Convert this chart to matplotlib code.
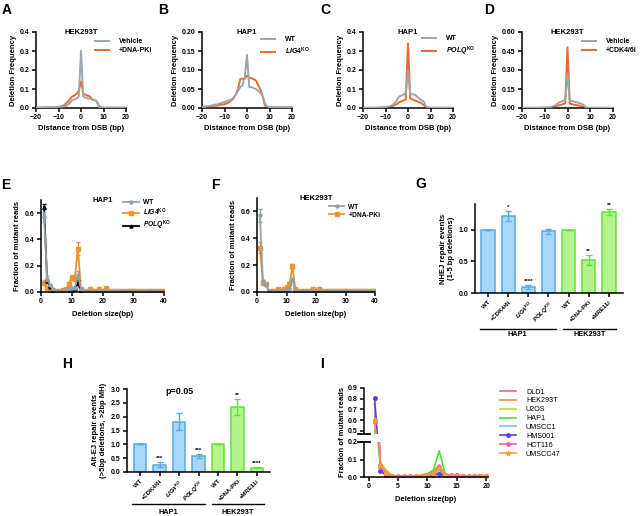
import matplotlib
matplotlib.use("Agg")
import matplotlib.pyplot as plt
import matplotlib.transforms as mtransforms
import numpy as np

plt.rcParams['font.family'] = ['Liberation Sans', 'DejaVu Sans']
plt.rcParams['font.weight'] = 'bold'
plt.rcParams['axes.labelweight'] = 'bold'
plt.rcParams['mathtext.fontset'] = 'custom'
plt.rcParams['mathtext.rm'] = 'Liberation Sans:bold'
plt.rcParams['mathtext.it'] = 'Liberation Sans:italic:bold'

W, H = 643, 516

# ---------------- data ----------------
# panels A-D: deletion frequency vs distance from DSB (-20..20)
dist = list(range(-20, 21))

a_vehicle = [0.002, 0.002, 0.002, 0.003, 0.003, 0.003, 0.004, 0.004, 0.005, 0.005, 0.006,
             0.007, 0.008, 0.01, 0.015, 0.025, 0.04, 0.045, 0.05, 0.06,
             0.30,
             0.06, 0.055, 0.05, 0.05, 0.045, 0.04, 0.035, 0.005, 0.002,
             0.001, 0.001, 0.001, 0.001, 0.001, 0.001, 0.001, 0.001, 0.001, 0.001, 0.001]
a_dnapki = [0.002, 0.002, 0.002, 0.002, 0.003, 0.003, 0.003, 0.004, 0.004, 0.005, 0.006,
            0.008, 0.012, 0.02, 0.03, 0.045, 0.06, 0.065, 0.075, 0.09,
            0.14,
            0.075, 0.07, 0.065, 0.06, 0.045, 0.04, 0.035, 0.01, 0.003,
            0.002, 0.002, 0.002, 0.002, 0.002, 0.002, 0.002, 0.002, 0.002, 0.002, 0.002]

b_wt = [0.002, 0.003, 0.004, 0.005, 0.006, 0.008, 0.009, 0.01, 0.012, 0.014, 0.016,
        0.018, 0.02, 0.022, 0.028, 0.035, 0.045, 0.055, 0.06, 0.08,
        0.14,
        0.055, 0.055, 0.052, 0.05, 0.045, 0.04, 0.03, 0.012, 0.004,
        0.002, 0.002, 0.002, 0.002, 0.002, 0.002, 0.002, 0.002, 0.002, 0.002, 0.002]
b_lig4 = [0.003, 0.003, 0.004, 0.004, 0.005, 0.006, 0.006, 0.007, 0.008, 0.009, 0.01,
          0.012, 0.015, 0.02, 0.025, 0.035, 0.05, 0.076, 0.077, 0.077,
          0.085,
          0.08, 0.078, 0.076, 0.072, 0.06, 0.048, 0.03, 0.006, 0.003,
          0.002, 0.002, 0.002, 0.002, 0.002, 0.002, 0.002, 0.002, 0.002, 0.002, 0.002]

c_wt = [0.001, 0.001, 0.001, 0.001, 0.001, 0.001, 0.002, 0.002, 0.003, 0.004, 0.005,
        0.007, 0.01, 0.015, 0.025, 0.04, 0.06, 0.065, 0.07, 0.08,
        0.19,
        0.075, 0.072, 0.07, 0.06, 0.05, 0.04, 0.035, 0.008, 0.002,
        0.001, 0.001, 0.001, 0.001, 0.001, 0.001, 0.001, 0.001, 0.001, 0.001, 0.001]
c_polq = [0.001, 0.001, 0.001, 0.001, 0.001, 0.001, 0.001, 0.002, 0.002, 0.003, 0.003,
          0.004, 0.006, 0.01, 0.015, 0.02, 0.03, 0.035, 0.04, 0.045,
          0.34,
          0.05, 0.045, 0.04, 0.035, 0.03, 0.025, 0.015, 0.004, 0.002,
          0.001, 0.001, 0.001, 0.001, 0.001, 0.001, 0.001, 0.001, 0.001, 0.001, 0.001]

d_vehicle = [0.001, 0.001, 0.001, 0.001, 0.001, 0.001, 0.002, 0.002, 0.002, 0.003, 0.003,
             0.004, 0.006, 0.01, 0.015, 0.025, 0.04, 0.05, 0.055, 0.07,
             0.26,
             0.06, 0.055, 0.05, 0.045, 0.04, 0.035, 0.025, 0.006, 0.002,
             0.001, 0.001, 0.001, 0.001, 0.001, 0.001, 0.001, 0.001, 0.001, 0.001, 0.001]
d_cdk = [0.001, 0.001, 0.001, 0.001, 0.001, 0.001, 0.001, 0.001, 0.002, 0.002, 0.002,
         0.003, 0.004, 0.006, 0.01, 0.015, 0.02, 0.025, 0.03, 0.04,
         0.48,
         0.035, 0.03, 0.025, 0.022, 0.02, 0.015, 0.01, 0.004, 0.002,
         0.001, 0.001, 0.001, 0.001, 0.001, 0.001, 0.001, 0.001, 0.001, 0.001, 0.001]

# panels E-F: fraction of mutant reads vs deletion size (1..40)
del_size = list(range(1, 41))
e_wt = [0.57, 0.10, 0.05, 0.02, 0.005, 0.004, 0.005, 0.01, 0.02, 0.03,
        0.03, 0.13, 0.02, 0.005, 0.004, 0.005, 0.003, 0.004, 0.006, 0.004,
        0.01, 0.004, 0.004, 0.003, 0.004, 0.003, 0.004, 0.003, 0.004, 0.005,
        0.003, 0.004, 0.003, 0.004, 0.003, 0.003, 0.004, 0.003, 0.003, 0.003]
e_lig4 = [0.07, 0.03, 0.005, 0.005, 0.004, 0.004, 0.015, 0.02, 0.06, 0.11,
          0.10, 0.33, 0.02, 0.005, 0.004, 0.02, 0.005, 0.004, 0.02, 0.005,
          0.03, 0.005, 0.004, 0.004, 0.005, 0.004, 0.004, 0.005, 0.004, 0.008,
          0.004, 0.004, 0.005, 0.004, 0.004, 0.004, 0.005, 0.004, 0.004, 0.004]
e_polq = [0.65, 0.08, 0.04, 0.01, 0.002, 0.002, 0.002, 0.002, 0.003, 0.005,
          0.02, 0.07, 0.005, 0.002, 0.002, 0.002, 0.002, 0.002, 0.002, 0.002,
          0.002, 0.002, 0.002, 0.002, 0.002, 0.002, 0.002, 0.002, 0.002, 0.002,
          0.002, 0.002, 0.002, 0.002, 0.002, 0.002, 0.002, 0.002, 0.002, 0.002]
e_wt_err = {1: 0.04, 2: 0.02, 12: 0.03}
e_lig4_err = {1: 0.02, 10: 0.02, 12: 0.05}
e_polq_err = {1: 0.02, 12: 0.02}

f_wt = [0.57, 0.08, 0.05, 0.01, 0.004, 0.004, 0.004, 0.004, 0.004, 0.01,
        0.02, 0.10, 0.01, 0.004, 0.004, 0.004, 0.004, 0.004, 0.005, 0.004,
        0.005, 0.004, 0.004, 0.004, 0.004, 0.004, 0.004, 0.004, 0.004, 0.004,
        0.004, 0.004, 0.004, 0.004, 0.004, 0.004, 0.004, 0.004, 0.004, 0.004]
f_dnapki = [0.33, 0.07, 0.06, 0.01, 0.005, 0.005, 0.02, 0.005, 0.02, 0.04,
            0.06, 0.19, 0.02, 0.005, 0.005, 0.005, 0.005, 0.005, 0.02, 0.005,
            0.02, 0.005, 0.004, 0.004, 0.004, 0.004, 0.004, 0.004, 0.004, 0.004,
            0.004, 0.004, 0.004, 0.004, 0.004, 0.004, 0.004, 0.004, 0.004, 0.004]
f_wt_err = {1: 0.05, 2: 0.01}
f_dnapki_err = {1: 0.04, 12: 0.02}

# panels G-H: bar charts
bar_labels = ['WT', '+CDK4/6i', r'$\mathit{LIG4}^{\mathrm{KO}}$', r'$\mathit{POLQ}^{\mathrm{KO}}$',
              'WT', '+DNA-PKi', '+MRE11i']
bar_group = ['HAP1', 'HAP1', 'HAP1', 'HAP1', 'HEK293T', 'HEK293T', 'HEK293T']
g_vals = [1.0, 1.22, 0.10, 0.98, 1.0, 0.52, 1.28]
g_err = [0.0, 0.08, 0.03, 0.04, 0.0, 0.08, 0.05]
g_stars = ['', '*', '****', '', '', '**', '**']
h_vals = [1.0, 0.27, 1.82, 0.57, 1.0, 2.35, 0.15]
h_err = [0.0, 0.08, 0.30, 0.07, 0.0, 0.30, 0.02]
h_stars = ['', '***', '', '***', '', '**', '****']

# panel I: cell lines
i_size = list(range(1, 21))
i_lines = ['DLD1', 'HEK293T', 'U2OS', 'HAP1', 'UMSCC1', 'HMS001', 'HCT116', 'UMSCC47']
i_colors = ['#F0649E', '#F28C38', '#C2D62E', '#4CE032', '#8AB8EC', '#6B35E6', '#F0649A', '#F39A3C']
i_markers = [None, None, None, None, None, 'o', 'o', '*']
i_dld1 = [0.75, 0.06, 0.02, 0.005, 0.005, 0.004, 0.005, 0.005, 0.008, 0.015,
          0.02, 0.06, 0.015, 0.01, 0.01, 0.008, 0.006, 0.005, 0.008, 0.005]
i_hek = [0.67, 0.07, 0.03, 0.005, 0.004, 0.004, 0.006, 0.006, 0.01, 0.02,
         0.03, 0.07, 0.015, 0.008, 0.006, 0.005, 0.005, 0.006, 0.01, 0.006]
i_u2os = [0.50, 0.08, 0.04, 0.008, 0.004, 0.004, 0.005, 0.005, 0.008, 0.012,
          0.015, 0.03, 0.01, 0.006, 0.005, 0.004, 0.004, 0.006, 0.012, 0.005]
i_hap1 = [0.40, 0.06, 0.02, 0.004, 0.003, 0.003, 0.004, 0.005, 0.01, 0.02,
          0.04, 0.15, 0.02, 0.006, 0.005, 0.004, 0.004, 0.005, 0.008, 0.004]
i_umscc1 = [0.76, 0.05, 0.015, 0.004, 0.004, 0.003, 0.004, 0.004, 0.006, 0.01,
            0.015, 0.04, 0.01, 0.005, 0.004, 0.004, 0.004, 0.004, 0.006, 0.004]
i_hms001 = [0.81, 0.035, 0.008, 0.003, 0.002, 0.002, 0.003, 0.003, 0.004, 0.005,
            0.008, 0.02, 0.005, 0.003, 0.003, 0.003, 0.003, 0.003, 0.004, 0.003]
i_hct116 = [0.58, 0.06, 0.02, 0.005, 0.004, 0.004, 0.005, 0.005, 0.007, 0.012,
            0.02, 0.055, 0.012, 0.012, 0.01, 0.008, 0.006, 0.005, 0.008, 0.005]
i_umscc47 = [0.60, 0.07, 0.025, 0.005, 0.004, 0.004, 0.005, 0.005, 0.008, 0.012,
             0.02, 0.05, 0.012, 0.008, 0.006, 0.005, 0.005, 0.006, 0.008, 0.004]
i_data = [i_dld1, i_hek, i_u2os, i_hap1, i_umscc1, i_hms001, i_hct116, i_umscc47]

GRAY = '#9AA8AE'
RED_OR = '#EA6A2C'
EGRAY = '#8FA2AC'
EORANGE = '#F0922E'
BLUE_F, BLUE_E = '#A8D8F7', '#55AAEA'
GREEN_F, GREEN_E = '#B4F28E', '#62E03A'

TICK = 5
LAB = 5.5


def rect(x0, y0, x1, y1):
    return [x0 / W, 1 - y1 / H, (x1 - x0) / W, (y1 - y0) / H]


def style(ax):
    for s in ['top', 'right']:
        ax.spines[s].set_visible(False)
    for s in ['left', 'bottom']:
        ax.spines[s].set_linewidth(1.1)
    ax.tick_params(width=1.1, length=3, labelsize=TICK, pad=1.5)


fig = plt.figure(figsize=(W / 100, H / 100), dpi=100)


def dsb_panel(x0, x1, ymax, yticks, fmt, title, gray, orange, labels):
    ax = fig.add_axes(rect(x0, 32, x1, 108))
    style(ax)
    lo, = ax.plot(dist, orange, color=RED_OR, lw=1.4, zorder=2)
    lg, = ax.plot(dist, gray, color=GRAY, lw=1.4, zorder=3)
    ax.set_xlim(-20, 20)
    ax.set_ylim(0, ymax)
    ax.set_xticks([-20, -10, 0, 10, 20])
    ax.set_yticks(yticks)
    ax.set_yticklabels([fmt % v for v in yticks])
    ax.set_xlabel('Distance from DSB (bp)', fontsize=LAB, labelpad=3)
    ax.set_ylabel('Deletion Frequency', fontsize=LAB, labelpad=2)
    ax.text(0.5, 1.0, title, transform=ax.transAxes, ha='center', va='center', fontsize=5.5)
    ax.legend([lg, lo], labels, loc='center left', bbox_to_anchor=(0.66, 0.81), frameon=False,
              fontsize=5, handlelength=2.0, handletextpad=1.4, labelspacing=0.3,
              borderpad=0, borderaxespad=0)
    return ax


dsb_panel(36, 126, 0.4, [0.0, 0.1, 0.2, 0.3, 0.4], '%.1f', 'HEK293T', a_vehicle, a_dnapki,
          ['Vehicle', '+DNA-PKi'])
dsb_panel(202, 292, 0.2, [0.0, 0.05, 0.10, 0.15, 0.20], '%.2f', 'HAP1', b_wt, b_lig4,
          ['WT', r'$\mathit{LIG4}^{\mathrm{KO}}$'])
dsb_panel(363, 453, 0.4, [0.0, 0.1, 0.2, 0.3, 0.4], '%.1f', 'HAP1', c_wt, c_polq,
          ['WT', r'$\mathit{POLQ}^{\mathrm{KO}}$'])
dsb_panel(522, 613, 0.6, [0.0, 0.15, 0.30, 0.45, 0.60], '%.2f', 'HEK293T', d_vehicle, d_cdk,
          ['Vehicle', '+CDK4/6i'])


def err_list(errs):
    return [errs.get(s, 0.0) for s in del_size]


def frac_panel(x0, x1, y0, series, legend_order, title, leg_xy):
    ax = fig.add_axes(rect(x0, y0, x1, 292))
    style(ax)
    handles = {}
    for vals, errs, col, mk, lab in series:
        ax.errorbar(del_size, vals, yerr=err_list(errs), fmt='none', ecolor=col,
                    elinewidth=0.8, capsize=1.2)
        handles[lab], = ax.plot(del_size, vals, color=col, lw=1.3, marker=mk, ms=2.2)
    ax.set_xlim(0, 40)
    ax.set_ylim(0, 0.7)
    ax.set_xticks([0, 10, 20, 30, 40])
    ax.set_yticks([0.0, 0.2, 0.4, 0.6])
    ax.set_yticklabels(['0.0', '0.2', '0.4', '0.6'])
    ax.set_xlabel('Deletion size(bp)', fontsize=LAB, labelpad=4)
    ax.set_ylabel('Fraction of mutant reads', fontsize=LAB, labelpad=3)
    ax.text(0.5, 1.0, title, transform=ax.transAxes, ha='center', va='center', fontsize=5.5)
    ax.legend([handles[k] for k in legend_order], legend_order, loc='center left',
              bbox_to_anchor=leg_xy, frameon=False, fontsize=4.8,
              handlelength=2.3, handletextpad=0.6, labelspacing=0.15, borderpad=0,
              borderaxespad=0)
    return ax


lig4_lab = r'$\mathit{LIG4}^{\mathrm{KO}}$'
polq_lab = r'$\mathit{POLQ}^{\mathrm{KO}}$'
frac_panel(41, 164, 200, [
    (e_lig4, e_lig4_err, EORANGE, 's', lig4_lab),
    (e_polq, e_polq_err, 'black', '^', polq_lab),
    (e_wt, e_wt_err, EGRAY, 'o', 'WT'),
], ['WT', lig4_lab, polq_lab], 'HAP1', (0.67, 0.83))
frac_panel(257, 375, 198, [
    (f_dnapki, f_dnapki_err, EORANGE, 's', '+DNA-PKi'),
    (f_wt, f_wt_err, EGRAY, 'o', 'WT'),
], ['WT', '+DNA-PKi'], 'HEK293T', (0.61, 0.86))


def bar_panel(box, vals, errs, stars, ymax, yticks, fmt, ylabel, xlim, line_y, lab_y):
    ax = fig.add_axes(rect(*box))
    style(ax)
    x = np.arange(len(vals))
    fills = [BLUE_F if g == 'HAP1' else GREEN_F for g in bar_group]
    edges = [BLUE_E if g == 'HAP1' else GREEN_E for g in bar_group]
    ax.bar(x, vals, width=0.66, color=fills, edgecolor=edges, linewidth=1.1, zorder=2)
    for xi, v, e, ec, st in zip(x, vals, errs, edges, stars):
        ax.errorbar(xi, v, yerr=e, color=ec, capsize=2, elinewidth=1.0, capthick=1.0, zorder=3)
        if st:
            ax.text(xi, v + e + ymax * 0.015, st, ha='center', va='bottom', fontsize=4.5)
    ax.set_xlim(*xlim)
    ax.set_ylim(0, ymax)
    ax.set_yticks(yticks)
    ax.set_yticklabels([fmt % v for v in yticks])
    ax.set_xticks(x)
    ax.set_xticklabels(bar_labels, rotation=45, ha='right', rotation_mode='anchor', fontsize=4.3)
    ax.set_ylabel(ylabel, fontsize=LAB, labelpad=3)
    tr = mtransforms.blended_transform_factory(ax.transData, ax.transAxes)
    for grp, (a, b) in [('HAP1', (-0.4, 3.35)), ('HEK293T', (3.7, 6.35))]:
        ax.plot([a, b], [line_y, line_y], color='black', lw=1.0, transform=tr, clip_on=False)
        ax.text((a + b) / 2, lab_y, grp, transform=tr, ha='center', va='center', fontsize=5.3)
    return ax


bar_panel((475, 204, 623, 293), g_vals, g_err, g_stars, 1.41, [0.0, 0.5, 1.0], '%.1f',
          'NHEJ repair events\n(1-5 bp deletions)', (-0.65, 6.7), -0.40, -0.47)
axH = bar_panel((127, 389, 270, 472), h_vals, h_err, h_stars, 3.0,
                [0.0, 0.5, 1.0, 1.5, 2.0, 2.5, 3.0], '%.1f',
                'Alt-EJ repair events\n(>5bp deletions, >2bp MH)', (-0.67, 6.67), -0.386, -0.49)
axH.text(2, 2.9, 'p=0.05', ha='center', va='center', fontsize=6.5)

# panel I with broken y axis
ax_lo = fig.add_axes(rect(364, 442, 488, 477))
ax_hi = fig.add_axes(rect(364, 388, 488, 434))
for ax in (ax_lo, ax_hi):
    style(ax)
    for vals, col, mk, lab in zip(i_data, i_colors, i_markers, i_lines):
        ax.plot(i_size, vals, color=col, lw=1.2, marker=mk, ms=2.5 if mk != '*' else 3.5, label=lab)
    ax.set_xlim(-0.8, 20.3)
ax_lo.set_ylim(0, 0.2)
ax_lo.set_yticks([0.0, 0.1, 0.2])
ax_lo.set_yticklabels(['0.0', '0.1', '0.2'])
ax_lo.set_xticks([0, 5, 10, 15, 20])
ax_lo.set_xlabel('Deletion size(bp)', fontsize=LAB, labelpad=4)
ax_hi.set_ylim(0.47, 0.9)
ax_hi.set_yticks([0.5, 0.6, 0.7, 0.8, 0.9])
ax_hi.set_yticklabels(['0.5', '0.6', '0.7', '0.8', '0.9'])
ax_hi.spines['bottom'].set_visible(False)
ax_hi.set_xticks([])
for ax, yb in ((ax_lo, 1.0), (ax_hi, 0.0)):
    ax.plot([-0.05, 0.05], [yb, yb], transform=ax.transAxes, color='black', lw=1.3, clip_on=False)
fig.text(342 / W, 1 - 432 / H, 'Fraction of mutant reads', rotation=90, ha='center', va='center',
         fontsize=LAB)
hI, lI = ax_lo.get_legend_handles_labels()
fig.legend(hI, lI, loc='center left', bbox_to_anchor=(500 / W, 1 - 423 / H), frameon=False,
           prop={'size': 5.2, 'weight': 'normal'}, handlelength=2.2, handletextpad=1.4,
           labelspacing=0.25, borderpad=0, borderaxespad=0)

# panel letters
for letter, (px, py) in zip('ABCDEFGHI', [(7, 10), (163, 10), (325, 10), (489, 10), (6, 185),
                                          (215, 185), (421, 184), (67, 364), (322, 364)]):
    fig.text(px / W, 1 - py / H, letter, fontsize=10, fontweight='bold', ha='center', va='center')

fig.savefig('out.png', dpi=100)
